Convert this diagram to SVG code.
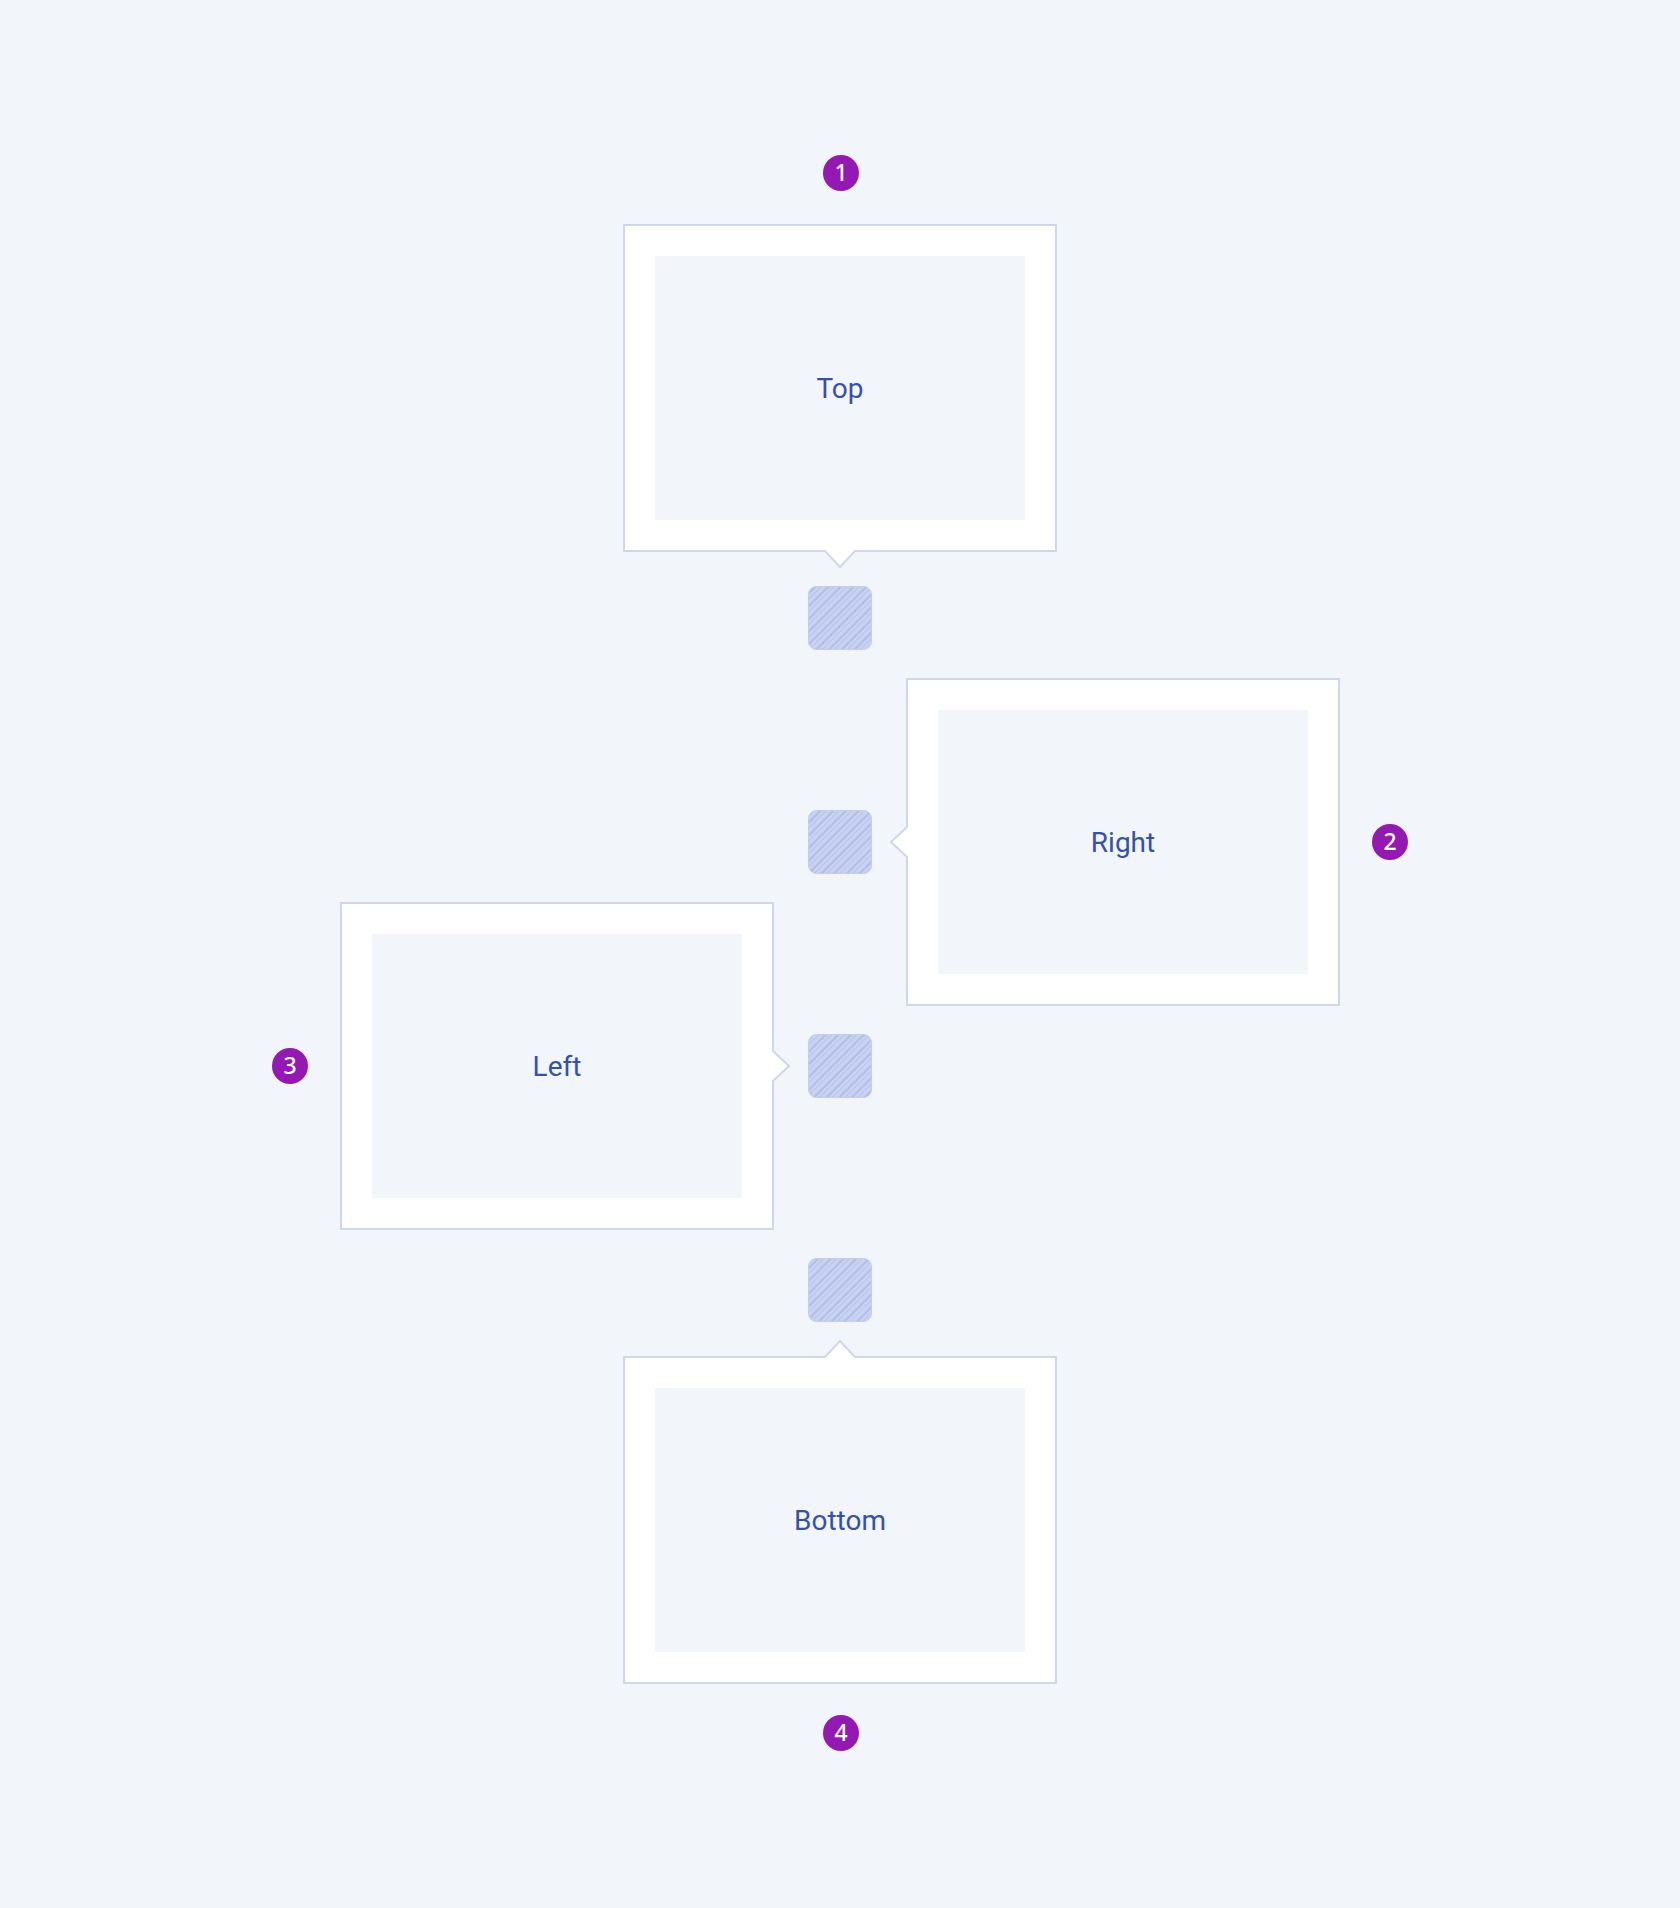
<svg xmlns="http://www.w3.org/2000/svg" width="1680" height="1908" viewBox="0 0 1680 1908">
  <defs>
    <pattern id="hatch" patternUnits="userSpaceOnUse" width="9" height="9" patternTransform="rotate(45)">
      <rect width="9" height="9" fill="#c9d2f1"/>
      <line x1="1.5" y1="0" x2="1.5" y2="9" stroke="#a9b7ea" stroke-width="1.6"/>
      <line x1="5.5" y1="0" x2="5.5" y2="9" stroke="#b8c3ee" stroke-width="1"/>
    </pattern>
    <style>
      .bg { fill: #f2f5fa; }
      .frame { fill: #ffffff; stroke: #cfd7ea; stroke-width: 2; stroke-linejoin: miter; }
      .inner { fill: #f2f5fa; }
      .label { font-family: Roboto, "Liberation Sans", sans-serif; font-size: 28px; fill: #3652a6; text-anchor: middle; }
      .badge { fill: #9418b2; }
      .badge-text { font-family: "Noto Sans", "Open Sans", "Liberation Sans", sans-serif; font-size: 23px; font-weight: 500; fill: #ffffff; text-anchor: middle; }
      .anchor { fill: url(#hatch); stroke: #c3cdef; stroke-width: 1; }
    </style>
  </defs>

  <rect class="bg" x="0" y="0" width="1680" height="1908"/>

  <g id="node-top">
    <path class="frame" d="M624,225 H1056 V551 H855 L840,567 L825,551 H624 Z"/>
    <rect class="inner" x="655" y="256" width="370" height="264"/>
    <text class="label" x="840" y="398">Top</text>
  </g>

  <g id="node-right">
    <path class="frame" d="M907,679 H1339 V1005 H907 V857 L891,842 L907,827 Z"/>
    <rect class="inner" x="938" y="710" width="370" height="264"/>
    <text class="label" x="1123" y="852">Right</text>
  </g>

  <g id="node-left">
    <path class="frame" d="M341,903 H773 V1051 L789,1066 L773,1081 V1229 H341 Z"/>
    <rect class="inner" x="372" y="934" width="370" height="264"/>
    <text class="label" x="557" y="1076">Left</text>
  </g>

  <g id="node-bottom">
    <path class="frame" d="M624,1357 H825 L840,1341 L855,1357 H1056 V1683 H624 Z"/>
    <rect class="inner" x="655" y="1388" width="370" height="264"/>
    <text class="label" x="840" y="1530">Bottom</text>
  </g>

  <g id="anchors">
    <rect id="anchor-1" class="anchor" x="808.5" y="586.5" width="63" height="63" rx="8"/>
    <rect id="anchor-2" class="anchor" x="808.5" y="810.5" width="63" height="63" rx="8"/>
    <rect id="anchor-3" class="anchor" x="808.5" y="1034.5" width="63" height="63" rx="8"/>
    <rect id="anchor-4" class="anchor" x="808.5" y="1258.5" width="63" height="63" rx="8"/>
  </g>

  <g id="badges">
    <g id="badge-1">
      <circle class="badge" cx="841" cy="173" r="18"/>
      <text class="badge-text" x="841" y="181">1</text>
    </g>
    <g id="badge-2">
      <circle class="badge" cx="1390" cy="842" r="18"/>
      <text class="badge-text" x="1390" y="850">2</text>
    </g>
    <g id="badge-3">
      <circle class="badge" cx="290" cy="1066" r="18"/>
      <text class="badge-text" x="290" y="1074">3</text>
    </g>
    <g id="badge-4">
      <circle class="badge" cx="841" cy="1733" r="18"/>
      <text class="badge-text" x="841" y="1741">4</text>
    </g>
  </g>

  <g id="connectors"></g>
</svg>
